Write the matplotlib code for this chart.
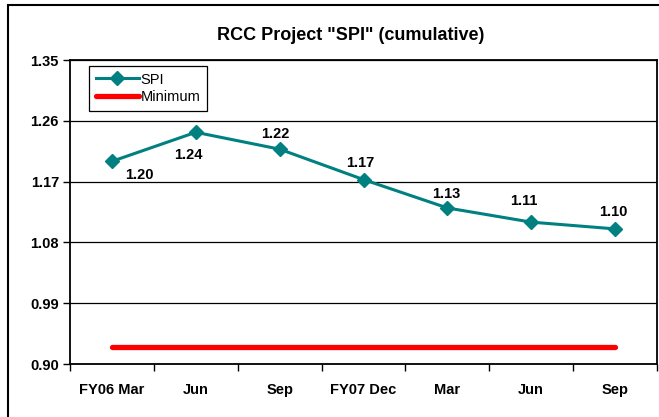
import matplotlib
matplotlib.use("Agg")
import matplotlib.pyplot as plt
from matplotlib.patches import Rectangle

plt.rcParams['font.family'] = ['Liberation Sans', 'DejaVu Sans']

categories = ["FY06 Mar", "Jun", "Sep", "FY07 Dec", "Mar", "Jun", "Sep"]
spi = [1.200, 1.243, 1.218, 1.173, 1.131, 1.110, 1.100]
minimum = [0.925] * 7
yticks = [0.90, 0.99, 1.08, 1.17, 1.26, 1.35]
label_offsets = [(20, -10), (-5, -16), (-3, 11), (-2, 12), (-1, 10), (-5, 15), (-1, 12)]

fig = plt.figure(figsize=(6.59, 4.17), dpi=100)
ax = fig.add_axes([70/659, 1-364/417, (657-70)/659, (364-60)/417])

x = list(range(len(categories)))
ax.plot(x, minimum, color='#ff0000', lw=3.8, solid_capstyle='round', label='Minimum', zorder=2)
ax.plot(x, spi, color='#008080', lw=2.2, marker='D', markersize=7, label='SPI', zorder=3)

for xi, v, off in zip(x, spi, label_offsets):
    ax.annotate(f"{v:.2f}", (xi, v), xytext=off, textcoords='offset points',
                ha='center', va='center', fontsize=10.5, fontweight='bold')

ax.set_xlim(-0.5, len(categories) - 0.5)
ax.set_ylim(0.90, 1.35)
ax.set_yticks(yticks)
ax.set_yticklabels([f"{t:.2f}" for t in yticks], fontsize=10.5, fontweight='bold')
ax.set_xticks([i - 0.5 for i in range(len(categories) + 1)])
ax.set_xticklabels([])
ax.set_xticks(x, minor=True)
ax.set_xticklabels(categories, minor=True, fontsize=10.5, fontweight='bold')
ax.tick_params(axis='x', which='minor', length=0, pad=14)
ax.tick_params(axis='x', which='major', length=5, width=1, direction='out')
ax.tick_params(axis='y', length=5, width=1, direction='out', pad=3)
ax.yaxis.grid(True, color='black', lw=0.9)
ax.set_axisbelow(True)
for s in ax.spines.values():
    s.set_linewidth(1.3)
    s.set_color('black')

handles, labels = ax.get_legend_handles_labels()
leg = ax.legend(handles[::-1], labels[::-1], loc='upper left', bbox_to_anchor=(19/587, 1 - 6/304),
                fancybox=False, edgecolor='black', framealpha=1, fontsize=10.5,
                handlelength=3.0, handletextpad=0.1, borderpad=0.45, labelspacing=0.25,
                borderaxespad=0)
leg.get_frame().set_linewidth(0.9)

fig.text(351/659, 1 - 35/417, 'RCC Project "SPI" (cumulative)', ha='center', va='center',
         fontsize=13, fontweight='bold')

fig.patches.append(Rectangle((8/659, -0.2), 1.2, 0.2 + 1 - 5/417, transform=fig.transFigure,
                             fill=False, edgecolor='black', lw=1.5, figure=fig))

fig.savefig('out.png', dpi=100)
